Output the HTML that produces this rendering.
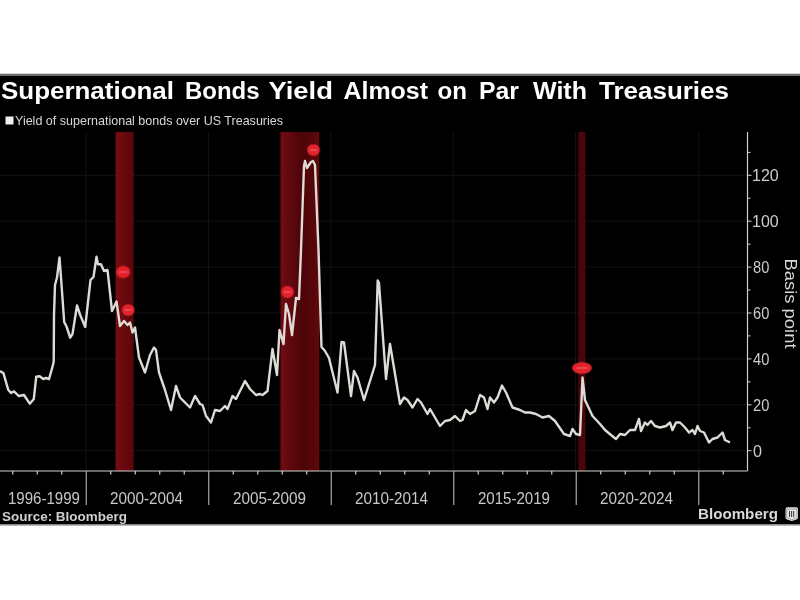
<!DOCTYPE html>
<html><head><meta charset="utf-8">
<style>
html,body{margin:0;padding:0;background:#fff;width:800px;height:600px;overflow:hidden}
svg{position:absolute;left:0;top:0;display:block;filter:blur(0.4px)}
</style></head>
<body>
<svg width="800" height="600" viewBox="0 0 800 600">
<defs>
<linearGradient id="bandA" x1="0" x2="1" y1="0" y2="0">
<stop offset="0" stop-color="#780c12"/>
<stop offset="1" stop-color="#58070a"/>
</linearGradient>
<linearGradient id="bandB" x1="0" x2="1" y1="0" y2="0">
<stop offset="0" stop-color="#700c12"/>
<stop offset="0.2" stop-color="#64090e"/>
<stop offset="0.55" stop-color="#4c0408"/>
<stop offset="0.85" stop-color="#560609"/>
<stop offset="1" stop-color="#64080c"/>
</linearGradient>
</defs>
<rect x="0" y="73" width="800" height="1" fill="#d6d6d6"/>
<rect x="0" y="74" width="800" height="2" fill="#6a6a6a"/>
<rect x="0" y="76" width="800" height="448" fill="#000"/>
<rect x="0" y="524" width="800" height="1" fill="#888"/>
<rect x="0" y="525" width="800" height="1" fill="#b8b8b8"/>
<text x="0.99" y="99" fill="#fff" font-family="Liberation Sans" font-weight="bold" font-size="23.5" textLength="173.00" lengthAdjust="spacingAndGlyphs">Supernational</text><text x="184.98" y="99" fill="#fff" font-family="Liberation Sans" font-weight="bold" font-size="23.5" textLength="74.50" lengthAdjust="spacingAndGlyphs">Bonds</text><text x="268.48" y="99" fill="#fff" font-family="Liberation Sans" font-weight="bold" font-size="23.5" textLength="64.50" lengthAdjust="spacingAndGlyphs">Yield</text><text x="343.49" y="99" fill="#fff" font-family="Liberation Sans" font-weight="bold" font-size="23.5" textLength="84.50" lengthAdjust="spacingAndGlyphs">Almost</text><text x="437.44" y="99" fill="#fff" font-family="Liberation Sans" font-weight="bold" font-size="23.5" textLength="29.50" lengthAdjust="spacingAndGlyphs">on</text><text x="478.97" y="99" fill="#fff" font-family="Liberation Sans" font-weight="bold" font-size="23.5" textLength="40.00" lengthAdjust="spacingAndGlyphs">Par</text><text x="532.99" y="99" fill="#fff" font-family="Liberation Sans" font-weight="bold" font-size="23.5" textLength="54.00" lengthAdjust="spacingAndGlyphs">With</text><text x="599.00" y="99" fill="#fff" font-family="Liberation Sans" font-weight="bold" font-size="23.5" textLength="130.00" lengthAdjust="spacingAndGlyphs">Treasuries</text><text x="15.00" y="125" fill="#d8d8d8" font-family="Liberation Sans" font-weight="normal" font-size="13" textLength="268.00" lengthAdjust="spacingAndGlyphs">Yield of supernational bonds over US Treasuries</text><text x="7.97" y="504" fill="#c8c8c8" font-family="Liberation Sans" font-weight="normal" font-size="16" textLength="72.00" lengthAdjust="spacingAndGlyphs">1996-1999</text><text x="109.98" y="504" fill="#c8c8c8" font-family="Liberation Sans" font-weight="normal" font-size="16" textLength="73.00" lengthAdjust="spacingAndGlyphs">2000-2004</text><text x="232.99" y="504" fill="#c8c8c8" font-family="Liberation Sans" font-weight="normal" font-size="16" textLength="73.00" lengthAdjust="spacingAndGlyphs">2005-2009</text><text x="354.99" y="504" fill="#c8c8c8" font-family="Liberation Sans" font-weight="normal" font-size="16" textLength="73.00" lengthAdjust="spacingAndGlyphs">2010-2014</text><text x="477.97" y="504" fill="#c8c8c8" font-family="Liberation Sans" font-weight="normal" font-size="16" textLength="72.00" lengthAdjust="spacingAndGlyphs">2015-2019</text><text x="599.99" y="504" fill="#c8c8c8" font-family="Liberation Sans" font-weight="normal" font-size="16" textLength="73.00" lengthAdjust="spacingAndGlyphs">2020-2024</text><text x="1.98" y="521" fill="#cfcfcf" font-family="Liberation Sans" font-weight="bold" font-size="13" textLength="125.00" lengthAdjust="spacingAndGlyphs">Source: Bloomberg</text><text x="697.97" y="518.5" fill="#d8d8d8" font-family="Liberation Sans" font-weight="bold" font-size="14.5" textLength="80.00" lengthAdjust="spacingAndGlyphs">Bloomberg</text><text x="752.90" y="456.6" fill="#cccccc" font-family="Liberation Sans" font-weight="normal" font-size="16.5" textLength="9.00" lengthAdjust="spacingAndGlyphs">0</text><text x="753.04" y="410.7" fill="#cccccc" font-family="Liberation Sans" font-weight="normal" font-size="16.5" textLength="16.30" lengthAdjust="spacingAndGlyphs">20</text><text x="753.06" y="364.8" fill="#cccccc" font-family="Liberation Sans" font-weight="normal" font-size="16.5" textLength="16.30" lengthAdjust="spacingAndGlyphs">40</text><text x="753.04" y="318.9" fill="#cccccc" font-family="Liberation Sans" font-weight="normal" font-size="16.5" textLength="16.30" lengthAdjust="spacingAndGlyphs">60</text><text x="753.04" y="273.0" fill="#cccccc" font-family="Liberation Sans" font-weight="normal" font-size="16.5" textLength="16.30" lengthAdjust="spacingAndGlyphs">80</text><text x="752.03" y="227.1" fill="#cccccc" font-family="Liberation Sans" font-weight="normal" font-size="16.5" textLength="26.70" lengthAdjust="spacingAndGlyphs">100</text><text x="752.03" y="181.2" fill="#cccccc" font-family="Liberation Sans" font-weight="normal" font-size="16.5" textLength="26.70" lengthAdjust="spacingAndGlyphs">120</text>
<rect x="5.5" y="116.5" width="8" height="8" fill="#eee"/>
<g stroke="#121212" stroke-width="1"><line x1="0" y1="450.7" x2="747.5" y2="450.7"/><line x1="0" y1="404.8" x2="747.5" y2="404.8"/><line x1="0" y1="358.9" x2="747.5" y2="358.9"/><line x1="0" y1="313.0" x2="747.5" y2="313.0"/><line x1="0" y1="267.1" x2="747.5" y2="267.1"/><line x1="0" y1="221.2" x2="747.5" y2="221.2"/><line x1="0" y1="175.3" x2="747.5" y2="175.3"/><line x1="86.25" y1="132" x2="86.25" y2="471"/><line x1="208.5" y1="132" x2="208.5" y2="471"/><line x1="330.75" y1="132" x2="330.75" y2="471"/><line x1="453.25" y1="132" x2="453.25" y2="471"/><line x1="575.5" y1="132" x2="575.5" y2="471"/><line x1="698.75" y1="132" x2="698.75" y2="471"/></g>
<rect x="115.6" y="132" width="18.099999999999994" height="339" fill="url(#bandA)"/><rect x="280.5" y="132" width="38.69999999999999" height="339" fill="url(#bandB)"/><rect x="578.3" y="132" width="7.2000000000000455" height="339" fill="#4a050a"/>
<polyline points="0,371 3.5,373.3 8.2,389.7 11,393 14,391.4 18.7,396 24,395 29.75,403.7 33.8,399 36.2,376.8 39.7,376.2 43.2,379 46,378 49,379 52,368.7 53.7,361.7 54,315 55,285 57,277.5 59.5,257.5 61,277.5 64.2,322 66.5,326.5 70.2,337.7 72.5,334 77,305.5 80,314.5 85.2,327 90.5,280 93.5,277 96.5,256.7 98,264.2 101,264.2 104,271 107.5,270 112,311 116.5,301.5 120,326 124,321 127.5,325 130,322.5 132.5,332.5 135,327.5 139,357.5 145,372.5 150,355 154,347.5 156,350 159,372.5 165,390 171,410 176,386 180,397.5 185,402.5 190,407.5 195,396 200,404 202.5,405 206,416 211,422.5 215,410 220,411 225,406 227.5,409 232.5,396 236,399 240,391 245,381 250,389 256,395 260,394 262.5,395 267.5,391 272.5,349 277,375 279.5,330 283.5,344 286,304 289,314 292,335 296,298 299,299 301,250 304,166 305,161 307,168 311,162 313,161 315,165 318.5,250 321.5,347 325,351 329,358 337.5,392.5 341.5,342 344,342.5 351,396 354,371 357.5,377.5 364,400 375,365 377.7,280.5 379,283 386,379 390,344 400,404 404,397.5 407.5,400 412.5,407.5 417.5,399 421,402.5 427.5,414 430,409 440,426 445,421 450,420 455,416 460,421 462.5,420 466,410 470,414 475,411 480,395 484,397.5 487.5,409 490,397.5 494,402.5 497.5,397.5 502,385.5 506,392.5 512.5,407.5 520,410 525,412.5 530,412.5 536,414 542.5,417.5 549,416 555,421 564,434 570,436 572.5,429 576,434 580,435 582.5,377.5 585,400 592.5,416 600,424 605,430 611,435 616,439 620,434 625,435 630,430 635,430 639,419 641,431 645,422.5 647.5,425 651,421 655,426 660,427.5 666,426 670,422.5 672.5,430 676,422.5 680,422.5 685,427.5 689,432.5 692.5,430 695,434 697.5,426 700,431 704,432.5 709,442.5 712.5,439 717.5,437.5 722.5,432.5 725,440 730,442.5" fill="none" stroke="#dedad6" stroke-width="2.4" stroke-linejoin="round"/>
<ellipse cx="123.2" cy="272" rx="7.75" ry="6.75" fill="rgba(224,36,44,0.4)"/><ellipse cx="123.2" cy="272" rx="6.75" ry="5.75" fill="#e2232c"/><line x1="119.14" y1="272" x2="127.26" y2="272" stroke="#ec5a64" stroke-width="1.4"/><ellipse cx="128.2" cy="310" rx="7.0" ry="6.5" fill="rgba(224,36,44,0.4)"/><ellipse cx="128.2" cy="310" rx="6.0" ry="5.5" fill="#e2232c"/><line x1="124.55999999999999" y1="310" x2="131.83999999999997" y2="310" stroke="#ec5a64" stroke-width="1.4"/><ellipse cx="313.5" cy="150" rx="7.0" ry="6.5" fill="rgba(224,36,44,0.4)"/><ellipse cx="313.5" cy="150" rx="6.0" ry="5.5" fill="#e2232c"/><line x1="309.86" y1="150" x2="317.14" y2="150" stroke="#ec5a64" stroke-width="1.4"/><ellipse cx="287.5" cy="292" rx="7.0" ry="6.75" fill="rgba(224,36,44,0.4)"/><ellipse cx="287.5" cy="292" rx="6.0" ry="5.75" fill="#e2232c"/><line x1="283.86" y1="292" x2="291.14" y2="292" stroke="#ec5a64" stroke-width="1.4"/><ellipse cx="582" cy="368" rx="10.5" ry="6.5" fill="rgba(224,36,44,0.4)"/><ellipse cx="582" cy="368" rx="9.5" ry="5.5" fill="#e2232c"/><line x1="576.4" y1="368" x2="587.6" y2="368" stroke="#ec5a64" stroke-width="1.4"/>
<g stroke="#cfcfcf" stroke-width="1.2">
<line x1="747.5" y1="132" x2="747.5" y2="471"/>
<line x1="0" y1="471" x2="747.5" y2="471"/>
<line x1="12.75" y1="471" x2="12.75" y2="474.5"/><line x1="37.25" y1="471" x2="37.25" y2="474.5"/><line x1="61.75" y1="471" x2="61.75" y2="474.5"/><line x1="110.75" y1="471" x2="110.75" y2="474.5"/><line x1="135.25" y1="471" x2="135.25" y2="474.5"/><line x1="159.75" y1="471" x2="159.75" y2="474.5"/><line x1="184.25" y1="471" x2="184.25" y2="474.5"/><line x1="233.25" y1="471" x2="233.25" y2="474.5"/><line x1="257.75" y1="471" x2="257.75" y2="474.5"/><line x1="282.25" y1="471" x2="282.25" y2="474.5"/><line x1="306.75" y1="471" x2="306.75" y2="474.5"/><line x1="355.75" y1="471" x2="355.75" y2="474.5"/><line x1="380.25" y1="471" x2="380.25" y2="474.5"/><line x1="404.75" y1="471" x2="404.75" y2="474.5"/><line x1="429.25" y1="471" x2="429.25" y2="474.5"/><line x1="478.25" y1="471" x2="478.25" y2="474.5"/><line x1="502.75" y1="471" x2="502.75" y2="474.5"/><line x1="527.25" y1="471" x2="527.25" y2="474.5"/><line x1="551.75" y1="471" x2="551.75" y2="474.5"/><line x1="600.75" y1="471" x2="600.75" y2="474.5"/><line x1="625.25" y1="471" x2="625.25" y2="474.5"/><line x1="649.75" y1="471" x2="649.75" y2="474.5"/><line x1="674.25" y1="471" x2="674.25" y2="474.5"/><line x1="723.25" y1="471" x2="723.25" y2="474.5"/>
</g>
<g stroke="#a8a8a8" stroke-width="1.2"><line x1="86.25" y1="471" x2="86.25" y2="505"/><line x1="208.75" y1="471" x2="208.75" y2="505"/><line x1="331.25" y1="471" x2="331.25" y2="505"/><line x1="453.75" y1="471" x2="453.75" y2="505"/><line x1="576.25" y1="471" x2="576.25" y2="505"/><line x1="698.75" y1="471" x2="698.75" y2="505"/></g>
<g stroke="#cfcfcf" stroke-width="1"><line x1="747.5" y1="450.7" x2="751.5" y2="450.7"/><line x1="747.5" y1="404.8" x2="751.5" y2="404.8"/><line x1="747.5" y1="358.9" x2="751.5" y2="358.9"/><line x1="747.5" y1="313.0" x2="751.5" y2="313.0"/><line x1="747.5" y1="267.1" x2="751.5" y2="267.1"/><line x1="747.5" y1="221.2" x2="751.5" y2="221.2"/><line x1="747.5" y1="175.3" x2="751.5" y2="175.3"/><line x1="747.5" y1="427.8" x2="750.5" y2="427.8"/><line x1="747.5" y1="381.9" x2="750.5" y2="381.9"/><line x1="747.5" y1="335.9" x2="750.5" y2="335.9"/><line x1="747.5" y1="290.0" x2="750.5" y2="290.0"/><line x1="747.5" y1="244.2" x2="750.5" y2="244.2"/><line x1="747.5" y1="198.2" x2="750.5" y2="198.2"/><line x1="747.5" y1="152.4" x2="750.5" y2="152.4"/></g>
<text transform="translate(785,258.5) rotate(90)" fill="#d8d8d8" font-family="Liberation Sans" font-size="16" textLength="90" lengthAdjust="spacingAndGlyphs">Basis point</text>
<path d="M785.5,509 Q785.5,507.2 787.3,507.2 L796.2,507.2 Q798,507.2 798,509 L798,517.5 Q798,519 796.5,519.5 L791.75,521 L787,519.5 Q785.5,519 785.5,517.5 Z" fill="#e4e4e4"/>
<path d="M786.6,509 L797,509 L797,517.8 L791.75,519.6 L786.6,517.8 Z" fill="none" stroke="#777" stroke-width="0.6"/>
<g stroke="#333" stroke-width="1"><line x1="789.5" y1="511" x2="789.5" y2="517"/><line x1="791.6" y1="511" x2="791.6" y2="517"/><line x1="793.7" y1="511" x2="793.7" y2="517"/></g>
</svg>
</body></html>
